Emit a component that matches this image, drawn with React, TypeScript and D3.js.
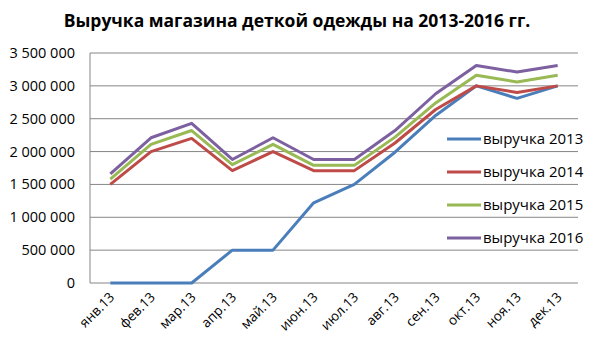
import React from "react";
import * as d3 from "d3";

const months = [
  "янв.13", "фев.13", "мар.13", "апр.13", "май.13", "июн.13",
  "июл.13", "авг.13", "сен.13", "окт.13", "ноя.13", "дек.13",
];

const rev2013 = [0, 0, 0, 500000, 500000, 1220000, 1500000, 1990000, 2550000, 3000000, 2810000, 3000000];
const rev2014 = [1500000, 2000000, 2200000, 1710000, 2000000, 1710000, 1710000, 2130000, 2640000, 3000000, 2900000, 3000000];
const rev2015 = [1580000, 2110000, 2320000, 1800000, 2110000, 1790000, 1790000, 2220000, 2740000, 3160000, 3060000, 3160000];
const rev2016 = [1660000, 2210000, 2430000, 1880000, 2210000, 1880000, 1880000, 2320000, 2880000, 3310000, 3210000, 3310000];

const seriesNames = ["выручка 2013", "выручка 2014", "выручка 2015", "выручка 2016"];
const yTicks = [0, 500000, 1000000, 1500000, 2000000, 2500000, 3000000, 3500000];

const colors = ["#4A7EBB", "#BE4B48", "#98B954", "#7D60A0"];

const W = 594;
const H = 352;
const left = 90, right = 578, top = 53, bottom = 283;

const fmt = (v: number) =>
  String(v).replace(/\B(?=(\d{3})+(?!\d))/g, "\u00a0");

export default function App() {
  const x = d3.scaleBand<string>().domain(months).range([left, right]);
  const y = d3.scaleLinear().domain([0, 3500000]).range([bottom, top]);
  const cx = (m: string) => (x(m) || 0) + x.bandwidth() / 2;

  const line = d3
    .line<number>()
    .x((_, i) => cx(months[i]))
    .y((d) => y(d));

  const all = [rev2013, rev2014, rev2015, rev2016];
  const font = "'Open Sans', sans-serif";

  return (
    <svg width={W} height={H} style={{ position: "absolute", left: 0, top: 0, background: "#fff" }}>
      <rect width={W} height={H} fill="#fff" />
      <text x={297} y={27} textAnchor="middle" fontFamily={font} fontWeight="bold" fontSize={17.5} fill="#000">
        Выручка магазина деткой одежды на 2013-2016 гг.
      </text>
      {yTicks.map((t) => (
        <g key={t}>
          <line x1={left} x2={right} y1={y(t)} y2={y(t)} stroke="#868686" strokeWidth={1} />
          <text x={75} y={y(t) + 5} textAnchor="end" fontFamily={font} fontSize={14.5} fill="#000">
            {fmt(t)}
          </text>
        </g>
      ))}
      <line x1={left} x2={left} y1={top} y2={bottom} stroke="#868686" />
      {months.map((m) => (
        <text
          key={m}
          transform={`translate(${cx(m) + 5},${bottom + 15}) rotate(-45)`}
          textAnchor="end"
          fontFamily={font}
          fontSize={13.5}
          fill="#000"
        >
          {m}
        </text>
      ))}
      {all.map((s, i) => (
        <path key={i} d={line(s) || ""} fill="none" stroke={colors[i]} strokeWidth={3} strokeLinejoin="round" />
      ))}
      {seriesNames.map((n, i) => {
        const ly = 139 + i * 33;
        return (
          <g key={n}>
            <line x1={447} x2={481} y1={ly} y2={ly} stroke={colors[i]} strokeWidth={3} />
            <text x={483} y={ly + 5} fontFamily={font} fontSize={15} fill="#000">
              {n}
            </text>
          </g>
        );
      })}
    </svg>
  );
}
